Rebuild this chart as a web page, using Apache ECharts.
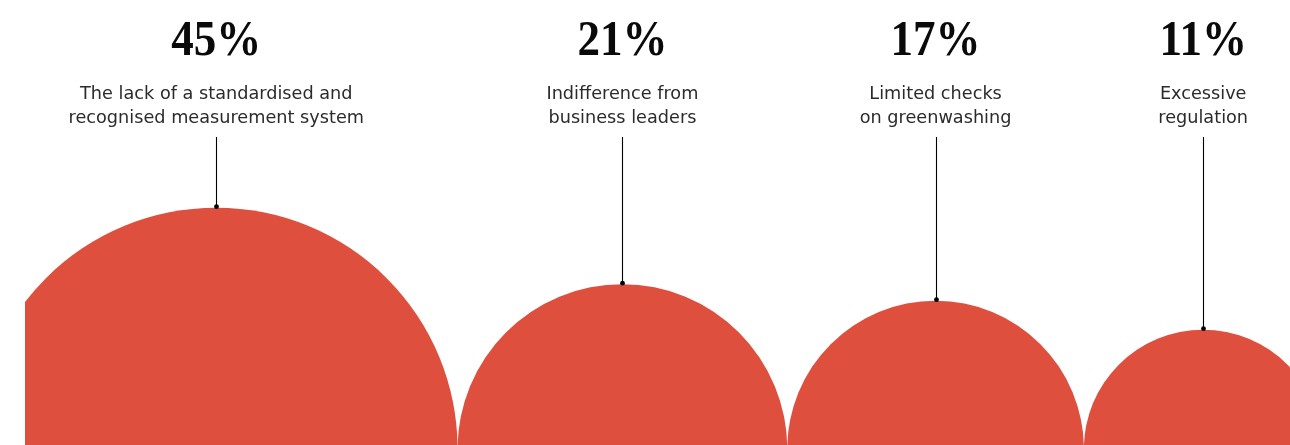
<!DOCTYPE html>
<html>
<head>
<meta charset="utf-8">
<script src="https://cdn.jsdelivr.net/npm/echarts@6/dist/echarts.min.js"></script>
<style>
html,body{margin:0;padding:0;background:#fff;}
#chart{width:1290px;height:445px;}
</style>
</head>
<body>
<div id="chart"></div>
<script>
// ---- data ----
const categories = [
  'The lack of a standardised and\nrecognised measurement system',
  'Indifference from\nbusiness leaders',
  'Limited checks\non greenwashing',
  'Excessive\nregulation'
];
const values = [45, 21, 17, 11];
const valueLabels = ['45%', '21%', '17%', '11%'];

// circles: area proportional to value, placed tangent to each other along the baseline
const radii = values.map(v => Math.sqrt(v));
const centers = [];
let acc = 0;
radii.forEach((r, i) => { acc += r; centers.push(acc); acc += r; });
const seriesData = values.map((v, i) => [centers[i], 0, radii[i], v, i]);

const chart = echarts.init(document.getElementById('chart'), null, {renderer: 'canvas'});

const PX_PER_UNIT = 35.97;
const GRID_LEFT = 25;
const XMIN = 50 / PX_PER_UNIT;
const XMAX = XMIN + (1290 - GRID_LEFT) / PX_PER_UNIT;
const Y_OFFSET = 4 / 445; // baseline of circles sits slightly below the bottom edge

function renderItem(params, api) {
  const idx = api.value(4);
  const c = api.coord([api.value(0), api.value(1)]);
  const r = api.size([api.value(2), 0])[0];
  const topY = c[1] - r;
  const lx = Math.round(c[0]) + 0.5;
  return {
    type: 'group',
    children: [
      { type: 'circle', shape: { cx: c[0], cy: c[1], r: r }, style: { fill: '#DF4F3E' } },
      { type: 'line', shape: { x1: lx, y1: 137, x2: lx, y2: topY }, style: { stroke: '#000', lineWidth: 1.1 } },
      { type: 'circle', shape: { cx: lx, cy: topY - 1, r: 2.4 }, style: { fill: '#000' } },
      { type: 'text', x: c[0], y: 42, scaleX: 0.9,
        style: { text: valueLabels[idx], font: 'bold 50px "Liberation Serif"', fill: '#0a0a0a', align: 'center', verticalAlign: 'middle' } },
      { type: 'text', x: c[0], y: 83, scaleX: 1.04,
        style: { text: categories[idx], font: '17px "DejaVu Sans"', lineHeight: 24, fill: '#2b2b2b', align: 'center', verticalAlign: 'top' } }
    ]
  };
}

chart.setOption({
  animation: false,
  grid: { left: GRID_LEFT, right: 0, top: 0, bottom: 0 },
  xAxis: { type: 'value', min: XMIN, max: XMAX, show: false },
  yAxis: { type: 'value', min: Y_OFFSET, max: 1 + Y_OFFSET, show: false },
  series: [{
    type: 'custom',
    clip: true,
    renderItem: renderItem,
    data: seriesData
  }]
});
</script>
</body>
</html>
